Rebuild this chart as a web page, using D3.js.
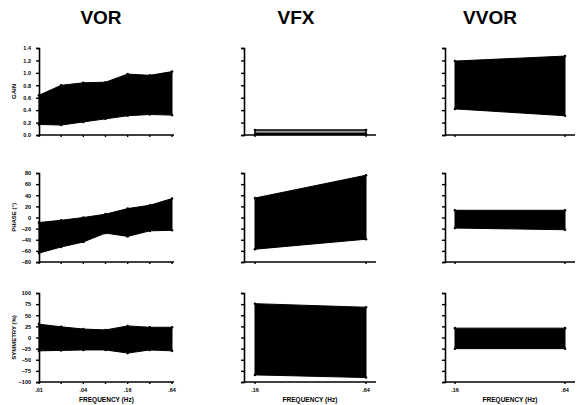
<!DOCTYPE html>
<html>
<head>
<meta charset="utf-8">
<script src="https://cdn.jsdelivr.net/npm/d3@7"></script>
<style>
  body { margin: 0; background: #fff; }
  svg { font-family: "Liberation Sans", Arial, sans-serif; }
</style>
</head>
<body>
<div id="chart"></div>
<script>
// test names / columns
var tests = ["VOR", "VFX", "VVOR"];

// frequencies (Hz)
var vorFreqs = [0.01, 0.02, 0.04, 0.08, 0.16, 0.32, 0.64];
var vorTickLabels = [".01", ".04", ".16", ".64"];
var vorTickValues = [0.01, 0.04, 0.16, 0.64];
var twoFreqs = [0.16, 0.64];
var twoTickLabels = [".16", ".64"];

// y axis ticks
var gainTicks = [0, 0.2, 0.4, 0.6, 0.8, 1.0, 1.2, 1.4];
var phaseTicks = [-80, -60, -40, -20, 0, 20, 40, 60, 80];
var symTicks = [-100, -75, -50, -25, 0, 25, 50, 75, 100];

// normal ranges (upper / lower limits)
var vorGainUpper = [0.64, 0.80, 0.84, 0.85, 0.98, 0.96, 1.02];
var vorGainLower = [0.17, 0.16, 0.21, 0.26, 0.31, 0.33, 0.32];
var vorPhaseUpper = [-9, -5, 0, 6, 16, 22, 34];
var vorPhaseLower = [-64, -53, -44, -28, -34, -24, -23];
var vorSymUpper = [30, 24, 19, 17, 26, 23, 23];
var vorSymLower = [-30, -29, -28, -28, -35, -28, -30];

var vfxGainUpper = [0.08, 0.08];
var vfxGainLower = [0.01, 0.01];
var vfxPhaseUpper = [35, 76];
var vfxPhaseLower = [-57, -39];
var vfxSymUpper = [76, 68];
var vfxSymLower = [-84, -90];

var vvorGainUpper = [1.19, 1.27];
var vvorGainLower = [0.42, 0.31];
var vvorPhaseUpper = [13, 13];
var vvorPhaseLower = [-19, -22];
var vvorSymUpper = [21, 21];
var vvorSymLower = [-25, -25];

var width = 578, height = 405;

var svg = d3.select("#chart").append("svg")
    .attr("width", width)
    .attr("height", height);

// column / row geometry
var cols = [
    { axis: 39, x0: 39, x1: 172, end: 174, titleX: 101 },
    { axis: 244, x0: 255, x1: 366, end: 376, titleX: 296 },
    { axis: 445, x0: 455, x1: 565, end: 575, titleX: 490 }
];
var rows = [
    { top: 48, bottom: 135, ticks: gainTicks, fmt: d3.format(".1f"), title: "GAIN" },
    { top: 173, bottom: 262, ticks: phaseTicks, fmt: d3.format("d"), title: "PHASE (\u00b0)" },
    { top: 293, bottom: 382, ticks: symTicks, fmt: d3.format("d"), title: "SYMMETRY (%)" }
];

var panels = [
    [{ f: vorFreqs, up: vorGainUpper, lo: vorGainLower },
     { f: twoFreqs, up: vfxGainUpper, lo: vfxGainLower, light: true },
     { f: twoFreqs, up: vvorGainUpper, lo: vvorGainLower }],
    [{ f: vorFreqs, up: vorPhaseUpper, lo: vorPhaseLower },
     { f: twoFreqs, up: vfxPhaseUpper, lo: vfxPhaseLower },
     { f: twoFreqs, up: vvorPhaseUpper, lo: vvorPhaseLower }],
    [{ f: vorFreqs, up: vorSymUpper, lo: vorSymLower },
     { f: twoFreqs, up: vfxSymUpper, lo: vfxSymLower },
     { f: twoFreqs, up: vvorSymUpper, lo: vvorSymLower }]
];

// titles
svg.selectAll("text.title")
    .data(tests)
    .enter()
    .append("text")
    .attr("class", "title")
    .attr("x", function(d, i) { return cols[i].titleX; })
    .attr("y", 24)
    .attr("text-anchor", "middle")
    .attr("font-size", 19)
    .attr("font-weight", "bold")
    .text(function(d) { return d; });

rows.forEach(function(row, ri) {
    cols.forEach(function(col, ci) {
        var p = panels[ri][ci];
        var g = svg.append("g");

        var y = d3.scaleLinear()
            .domain(d3.extent(row.ticks))
            .range([row.bottom, row.top]);

        var x = d3.scaleLog()
            .domain(d3.extent(p.f))
            .range([col.x0, col.x1]);

        // band
        var area = d3.area()
            .x(function(d, i) { return x(p.f[i]); })
            .y0(function(d, i) { return y(p.lo[i]); })
            .y1(function(d) { return y(d); });

        g.append("path")
            .datum(p.up)
            .attr("d", area)
            .attr("fill", p.light ? "#9a9a9a" : "#000")
            .attr("stroke", "#000")
            .attr("stroke-width", p.light ? 1.4 : 1);

        if (p.light) {
            g.append("line")
                .attr("x1", x(p.f[0])).attr("x2", x(p.f[1]))
                .attr("y1", y(p.lo[0]) - 0.5).attr("y2", y(p.lo[1]) - 0.5)
                .attr("stroke", "#000").attr("stroke-width", 2.5);
        }

        // end point markers
        var pts = [];
        p.f.forEach(function(f, i) {
            pts.push([f, p.up[i]]);
            pts.push([f, p.lo[i]]);
        });
        g.selectAll("circle")
            .data(pts)
            .enter()
            .append("circle")
            .attr("cx", function(d) { return x(d[0]); })
            .attr("cy", function(d) { return y(d[1]); })
            .attr("r", 1.3)
            .attr("fill", "#000");

        // y axis
        var yAxis = d3.axisLeft(y)
            .tickValues(row.ticks)
            .tickSize(3)
            .tickFormat(ci === 0 ? row.fmt : "");
        var ya = g.append("g")
            .attr("transform", "translate(" + col.axis + ",0)")
            .call(yAxis);
        ya.select(".domain").attr("stroke-width", 1.6);
        ya.selectAll("line").attr("stroke-width", 1.4);
        ya.selectAll("text")
            .attr("font-size", 5.5)
            .attr("font-weight", "bold")
            .attr("dx", -2);

        // x axis
        var xa = g.append("g")
            .attr("transform", "translate(0," + row.bottom + ")");
        xa.append("line")
            .attr("x1", col.axis).attr("x2", col.end)
            .attr("stroke", "#000").attr("stroke-width", 1.6);
        xa.selectAll("line.tk")
            .data(p.f)
            .enter()
            .append("line")
            .attr("class", "tk")
            .attr("x1", function(d) { return x(d); })
            .attr("x2", function(d) { return x(d); })
            .attr("y1", 0).attr("y2", 2)
            .attr("stroke", "#000").attr("stroke-width", 1.4);

        if (ri === 2) {
            var tv = ci === 0 ? vorTickValues : twoFreqs;
            var tl = ci === 0 ? vorTickLabels : twoTickLabels;
            xa.selectAll("text.tl")
                .data(tv)
                .enter()
                .append("text")
                .attr("class", "tl")
                .attr("x", function(d) { return x(d); })
                .attr("y", 10)
                .attr("text-anchor", "middle")
                .attr("font-size", 5.5)
                .attr("font-weight", "bold")
                .text(function(d, i) { return tl[i]; });

            svg.append("text")
                .attr("x", (col.axis + col.end) / 2)
                .attr("y", 402)
                .attr("text-anchor", "middle")
                .attr("font-size", 6.5)
                .attr("font-weight", "bold")
                .text("FREQUENCY (Hz)");
        }

        if (ci === 0) {
            svg.append("text")
                .attr("transform", "translate(16," + (row.top + row.bottom) / 2 + ") rotate(-90)")
                .attr("text-anchor", "middle")
                .attr("font-size", 6)
                .attr("font-weight", "bold")
                .text(row.title);
        }
    });
});
</script>
</body>
</html>
